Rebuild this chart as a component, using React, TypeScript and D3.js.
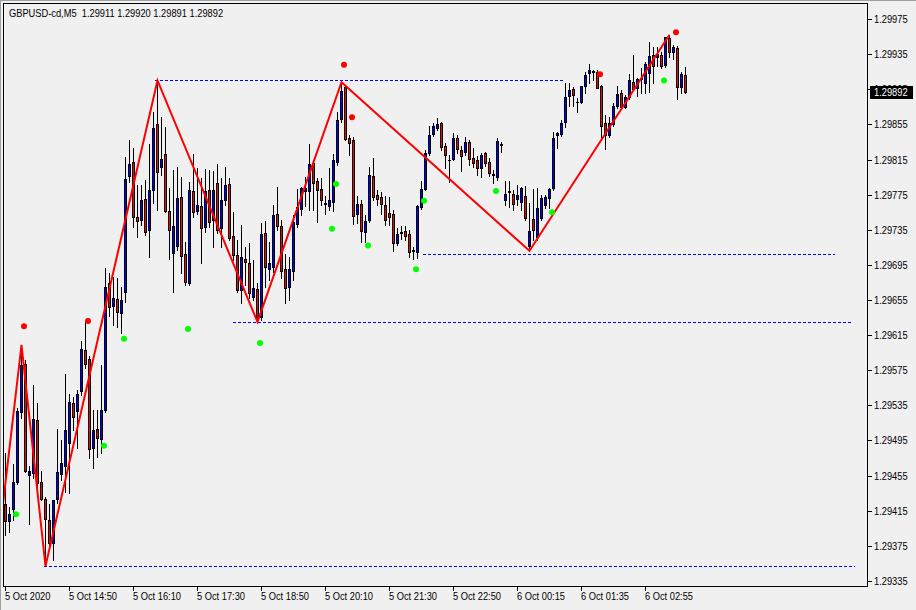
import React from "react";
import * as d3 from "d3";

const TITLE = "GBPUSD-cd,M5  1.29911 1.29920 1.29891 1.29892";

const opens = [1.29423,1.29403,1.29417,1.29448,1.29527,1.29582,1.29456,1.29458,1.29518,1.29448,1.29428,1.29404,1.29378,1.29428,1.29457,1.29466,1.29492,1.29538,1.29529,1.29551,1.29598,1.29588,1.29487,1.29508,1.29497,1.29530,1.29674,1.29648,1.29656,1.29640,1.29664,1.29796,1.29812,1.29750,1.29746,1.29770,1.29735,1.29780,1.29855,1.29806,1.29821,1.29756,1.29708,1.29716,1.29772,1.29707,1.29674,1.29779,1.29756,1.29762,1.29738,1.29780,1.29746,1.29788,1.29737,1.29769,1.29787,1.29728,1.29706,1.29666,1.29702,1.29697,1.29658,1.29668,1.29636,1.29731,1.29690,1.29693,1.29753,1.29739,1.29690,1.29670,1.29688,1.29742,1.29759,1.29779,1.29779,1.29811,1.29790,1.29781,1.29764,1.29762,1.29767,1.29812,1.29861,1.29898,1.29840,1.29837,1.29753,1.29764,1.29732,1.29746,1.29796,1.29775,1.29772,1.29763,1.29754,1.29753,1.29720,1.29731,1.29734,1.29730,1.29712,1.29710,1.29761,1.29781,1.29822,1.29844,1.29851,1.29857,1.29830,1.29814,1.29816,1.29840,1.29826,1.29823,1.29835,1.29817,1.29814,1.29805,1.29822,1.29812,1.29797,1.29795,1.29833,1.29769,1.29779,1.29776,1.29770,1.29767,1.29773,1.29716,1.29747,1.29727,1.29748,1.29763,1.29771,1.29783,1.29843,1.29844,1.29858,1.29887,1.29895,1.29881,1.29880,1.29899,1.29913,1.29916,1.29915,1.29899,1.29857,1.29843,1.29855,1.29876,1.29891,1.29875,1.29886,1.29903,1.29896,1.29908,1.29902,1.29913,1.29934,1.29932,1.29934,1.29923,1.29953,1.29937,1.29942,1.29898,1.29911];
const highs = [1.29481,1.29419,1.29468,1.29532,1.29604,1.29587,1.29466,1.29558,1.29538,1.29460,1.29431,1.29423,1.29427,1.29508,1.29496,1.29571,1.29548,1.29545,1.29553,1.29608,1.29630,1.29591,1.29530,1.29530,1.29581,1.29691,1.29686,1.29681,1.29680,1.29670,1.29818,1.29837,1.29828,1.29786,1.29786,1.29792,1.29833,1.29869,1.29905,1.29863,1.29852,1.29782,1.29803,1.29806,1.29795,1.29721,1.29789,1.29821,1.29805,1.29794,1.29804,1.29803,1.29802,1.29810,1.29794,1.29806,1.29794,1.29755,1.29723,1.29740,1.29715,1.29720,1.29701,1.29674,1.29743,1.29745,1.29721,1.29763,1.29784,1.29746,1.29707,1.29704,1.29752,1.29781,1.29784,1.29795,1.29833,1.29814,1.29794,1.29794,1.29773,1.29805,1.29821,1.29869,1.29903,1.29899,1.29843,1.29841,1.29773,1.29769,1.29752,1.29806,1.29817,1.29780,1.29778,1.29773,1.29772,1.29757,1.29737,1.29739,1.29739,1.29735,1.29715,1.29763,1.29790,1.29826,1.29853,1.29857,1.29862,1.29858,1.29834,1.29820,1.29845,1.29843,1.29830,1.29841,1.29837,1.29828,1.29819,1.29822,1.29823,1.29817,1.29803,1.29840,1.29835,1.29790,1.29790,1.29780,1.29786,1.29784,1.29785,1.29765,1.29781,1.29783,1.29775,1.29775,1.29783,1.29846,1.29846,1.29860,1.29902,1.29902,1.29898,1.29885,1.29899,1.29915,1.29924,1.29917,1.29917,1.29900,1.29866,1.29863,1.29879,1.29899,1.29894,1.29888,1.29912,1.29934,1.29908,1.29919,1.29926,1.29949,1.29943,1.29943,1.29937,1.29954,1.29957,1.29945,1.29944,1.29915,1.29920];
const lows = [1.29387,1.29391,1.29404,1.29445,1.29521,1.29459,1.29400,1.29452,1.29439,1.29427,1.29352,1.29376,1.29359,1.29424,1.29450,1.29436,1.29435,1.29507,1.29487,1.29547,1.29578,1.29475,1.29464,1.29476,1.29481,1.29527,1.29637,1.29627,1.29624,1.29617,1.29653,1.29789,1.29738,1.29727,1.29740,1.29729,1.29704,1.29765,1.29757,1.29797,1.29755,1.29702,1.29664,1.29712,1.29686,1.29672,1.29672,1.29750,1.29753,1.29697,1.29732,1.29738,1.29715,1.29731,1.29715,1.29763,1.29723,1.29701,1.29664,1.29652,1.29672,1.29657,1.29655,1.29630,1.29632,1.29670,1.29678,1.29687,1.29735,1.29680,1.29652,1.29655,1.29678,1.29738,1.29752,1.29762,1.29757,1.29757,1.29744,1.29763,1.29753,1.29757,1.29756,1.29809,1.29858,1.29837,1.29820,1.29742,1.29743,1.29721,1.29721,1.29744,1.29769,1.29763,1.29753,1.29740,1.29740,1.29711,1.29718,1.29725,1.29723,1.29704,1.29702,1.29703,1.29759,1.29780,1.29820,1.29842,1.29849,1.29826,1.29805,1.29789,1.29814,1.29822,1.29802,1.29820,1.29809,1.29806,1.29797,1.29795,1.29808,1.29796,1.29788,1.29792,1.29823,1.29763,1.29761,1.29757,1.29763,1.29757,1.29746,1.29711,1.29723,1.29723,1.29746,1.29760,1.29760,1.29780,1.29828,1.29842,1.29852,1.29876,1.29876,1.29869,1.29879,1.29891,1.29902,1.29905,1.29896,1.29840,1.29827,1.29841,1.29853,1.29874,1.29874,1.29874,1.29884,1.29894,1.29887,1.29891,1.29891,1.29892,1.29902,1.29921,1.29919,1.29920,1.29932,1.29929,1.29884,1.29891,1.29891];
const closes = [1.29403,1.29411,1.29448,1.29529,1.29581,1.29460,1.29460,1.29519,1.29447,1.29428,1.29406,1.29378,1.29427,1.29459,1.29469,1.29507,1.29539,1.29522,1.29548,1.29599,1.29582,1.29485,1.29507,1.29498,1.29530,1.29670,1.29647,1.29657,1.29641,1.29655,1.29793,1.29810,1.29750,1.29745,1.29769,1.29732,1.29780,1.29851,1.29801,1.29816,1.29756,1.29735,1.29739,1.29771,1.29705,1.29675,1.29780,1.29755,1.29763,1.29737,1.29779,1.29744,1.29780,1.29735,1.29769,1.29786,1.29726,1.29706,1.29666,1.29704,1.29698,1.29663,1.29669,1.29636,1.29730,1.29693,1.29697,1.29752,1.29739,1.29688,1.29669,1.29690,1.29744,1.29761,1.29782,1.29782,1.29810,1.29788,1.29780,1.29769,1.29765,1.29769,1.29814,1.29860,1.29893,1.29838,1.29834,1.29751,1.29764,1.29734,1.29745,1.29797,1.29772,1.29770,1.29764,1.29746,1.29750,1.29720,1.29730,1.29732,1.29728,1.29710,1.29711,1.29762,1.29781,1.29822,1.29843,1.29853,1.29855,1.29829,1.29820,1.29815,1.29840,1.29827,1.29819,1.29835,1.29816,1.29811,1.29805,1.29820,1.29811,1.29800,1.29798,1.29836,1.29832,1.29776,1.29778,1.29764,1.29775,1.29782,1.29748,1.29734,1.29735,1.29760,1.29771,1.29772,1.29781,1.29840,1.29845,1.29857,1.29886,1.29894,1.29888,1.29880,1.29899,1.29911,1.29917,1.29915,1.29896,1.29853,1.29843,1.29857,1.29876,1.29890,1.29875,1.29886,1.29905,1.29895,1.29907,1.29907,1.29924,1.29933,1.29921,1.29935,1.29921,1.29954,1.29937,1.29943,1.29898,1.29912,1.29892];

const zigzagBars = [-1, 4, 10, 38, 63, 84, 131, 166];
const zigzagPrices = [1.29408, 1.29604, 1.29352, 1.29905, 1.2963, 1.29903, 1.29711, 1.29957];

const redDotBars = [4, 20, 84, 86, 148, 167];
const redDotPrices = [1.29625, 1.29631, 1.29923, 1.29863, 1.29912, 1.2996];
const greenDotBars = [2, 24, 29, 45, 63, 81, 82, 90, 102, 104, 122, 136, 164];
const greenDotPrices = [1.29411, 1.29489, 1.29611, 1.29622, 1.29606, 1.29736, 1.29787, 1.29717, 1.2969, 1.29768, 1.29779, 1.29755, 1.29905];

const levelPrices = [1.29905, 1.29707, 1.2963, 1.29352];
const levelFrom = [37.5, 104.5, 57, 9.75];
const levelTo = [140, 207.5, 212, 212.5];

const priceTicks = [1.29335,1.29375,1.29415,1.29455,1.29495,1.29535,1.29575,1.29615,1.29655,1.29695,1.29735,1.29775,1.29815,1.29855,1.29895,1.29935,1.29975];
const timeTickBars = [0, 16, 32, 48, 64, 80, 96, 112, 128, 144, 160];
const timeTickLabels = ["5 Oct 2020","5 Oct 14:50","5 Oct 16:10","5 Oct 17:30","5 Oct 18:50","5 Oct 20:10","5 Oct 21:30","5 Oct 22:50","6 Oct 00:15","6 Oct 01:35","6 Oct 02:55"];
const lastPrice = 1.29892;

const W = 916, H = 610;
const FL = 3, FT = 3, FR = 867, FB = 586;
const FONT = "'Liberation Sans', Arial, sans-serif";
const SX = 0.845;

function T({ x, y, children, fill = "#000" }: { x: number; y: number; children: React.ReactNode; fill?: string }) {
  return (
    <text transform={`translate(${x},${y}) scale(${SX},1)`} fontSize={11} fill={fill}
      style={{ whiteSpace: "pre" }} xmlSpace="preserve">{children}</text>
  );
}

export default function App() {
  const x = d3.scaleLinear().domain([0, 170]).range([5, 685]);
  const y = d3.scaleLinear().domain([1.29335, 1.29975]).range([581, 19]);

  const candles = opens.map((o, i) => {
    const c = closes[i];
    const cx = Math.round(x(i));
    const yH = Math.round(y(highs[i]));
    const yL = Math.round(y(lows[i]));
    const yTop = Math.round(y(Math.max(o, c)));
    const yBot = Math.round(y(Math.min(o, c)));
    const bull = c > o;
    const bodyH = Math.max(1, yBot - yTop + 1);
    return (
      <g key={i}>
        <rect x={cx} y={yH} width={1} height={yL - yH + 1} fill="#000" />
        <rect x={cx - 1} y={yTop} width={3} height={bodyH} fill="#000" />
        {yBot - yTop >= 2 && (
          <rect x={cx} y={yTop + 1} width={1} height={yBot - yTop - 1} fill={bull ? "#0000ff" : "#ff0000"} />
        )}
      </g>
    );
  });

  const zz = d3.line<number>()
    .x((b) => x(b) + 0.5)
    .y((_, k) => y(zigzagPrices[k]))(zigzagBars) || "";

  const lastY = Math.round(y(lastPrice));

  return (
    <div style={{ position: "fixed", left: 0, top: 0, width: W, height: H }}>
      <svg width={W} height={H} style={{ display: "block", background: "#f0f0f0" }} fontFamily={FONT}>
        <defs>
          <clipPath id="plot">
            <rect x={FL + 1} y={FT + 1} width={FR - FL - 1} height={FB - FT - 1} />
          </clipPath>
        </defs>
        <rect x={0} y={0} width={W} height={H} fill="#f0f0f0" />
        <line x1={0} x2={W} y1={0.5} y2={0.5} stroke="#a0a0a0" />
        <line x1={0.5} x2={0.5} y1={0} y2={H} stroke="#a0a0a0" />
        <g clipPath="url(#plot)">
          {levelPrices.map((p, k) => {
            const yy = Math.round(y(p)) + 0.5;
            return (
              <line key={k} x1={x(levelFrom[k])} x2={x(levelTo[k])} y1={yy} y2={yy}
                stroke="#0000ff" strokeWidth={1} strokeDasharray="3,2" />
            );
          })}
          {candles}
          <path d={zz} fill="none" stroke="#ff0000" strokeWidth={2} />
          {redDotBars.map((b, k) => (
            <circle key={"r" + k} cx={x(b) + 3} cy={y(redDotPrices[k])} r={3} fill="#ff0000" />
          ))}
          {greenDotBars.map((b, k) => (
            <circle key={"g" + k} cx={x(b) + 3} cy={y(greenDotPrices[k])} r={3} fill="#00ff00" />
          ))}
        </g>
        <rect x={FL + 0.5} y={FT + 0.5} width={FR - FL} height={FB - FT} fill="none" stroke="#000" strokeWidth={1} />
        <T x={9} y={17}>{TITLE}</T>
        {priceTicks.map((t, k) => {
          const yy = Math.round(y(t));
          return (
            <g key={"pt" + k}>
              <line x1={FR + 0.5} x2={FR + 5} y1={yy + 0.5} y2={yy + 0.5} stroke="#000" />
              <T x={874} y={yy + 4}>{t.toFixed(5)}</T>
            </g>
          );
        })}
        <rect x={870} y={lastY - 6} width={43} height={13} fill="#000" />
        <T x={874} y={lastY + 4} fill="#fff">{lastPrice.toFixed(5)}</T>
        {timeTickBars.map((b, k) => {
          const xx = Math.round(x(b)) + 0.5;
          return (
            <g key={"tt" + k}>
              <line x1={xx} x2={xx} y1={FB + 0.5} y2={FB + 5} stroke="#000" />
              <T x={xx - 0.5} y={600}>{timeTickLabels[k]}</T>
            </g>
          );
        })}
      </svg>
    </div>
  );
}
